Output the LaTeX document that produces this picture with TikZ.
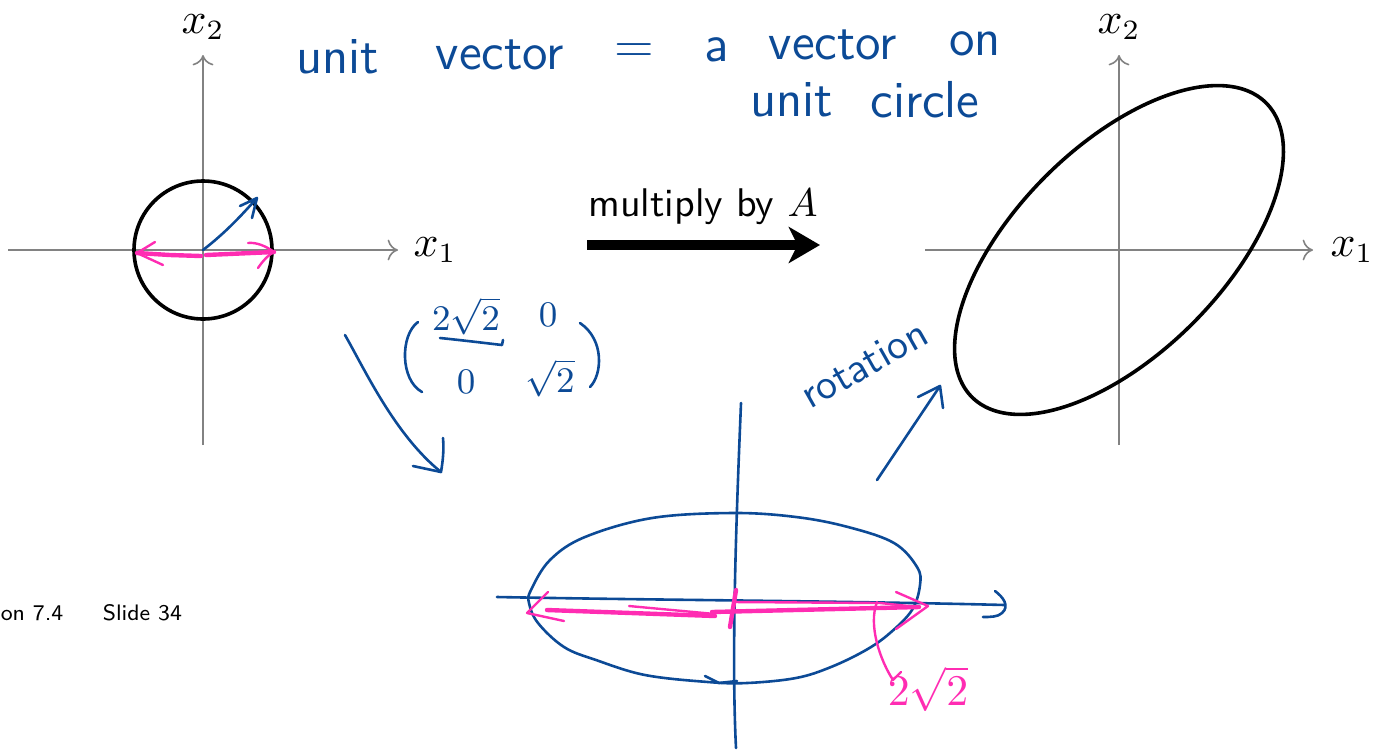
\documentclass[tikz,border=0pt]{standalone}
\usepackage{amsmath}
\usetikzlibrary{arrows.meta}
\definecolor{hblue}{RGB}{12,74,150}
\definecolor{hpink}{RGB}{255,44,178}
\definecolor{axisgray}{RGB}{130,130,130}
\begin{document}
\begin{tikzpicture}[x=0.25pt,y=-0.25pt,
  axis/.style={draw=axisgray, line width=0.4pt, -{To[length=2.6pt,width=5.2pt]}},
  curve/.style={draw=black, line width=0.9pt},
  hand/.style={draw=hblue, line width=0.65pt, line cap=round, line join=round},
  pinkthick/.style={draw=hpink, line width=1.1pt, line cap=round, line join=round},
  pinkthin/.style={draw=hpink, line width=0.6pt, line cap=round, line join=round},
  axlabel/.style={inner sep=0pt, font=\fontsize{10.5}{12}\selectfont},
  handtext/.style={inner sep=0pt, text=hblue, font=\sffamily\fontsize{13}{15}\selectfont},
  mattext/.style={inner sep=0pt, text=hblue, font=\fontsize{9}{10}\selectfont},
  foot/.style={inner sep=0pt, font=\sffamily\fontsize{5.6}{7}\selectfont}
]
\useasboundingbox (0,0) rectangle (1379,751);

% ---------- left plot ----------
\coordinate (LO) at (203,250);
\coordinate (Lxa) at (8,250);   \coordinate (Lxb) at (398,250);
\coordinate (Lya) at (203,445); \coordinate (Lyb) at (203,55);
\draw[axis] (Lxa) -- (Lxb);
\draw[axis] (Lya) -- (Lyb);
\node[axlabel] (Lx1) at (435,250) {$x_1$};
\node[axlabel] (Lx2) at (203,27) {$x_2$};
\draw[curve] (LO) circle[radius=69];

% blue unit vector
\coordinate (uv) at (257,198);
\draw[hand] (LO) .. controls (225,233) and (240,217) .. (uv);
\draw[hand] (240,206) -- (uv) -- (252,218);

% pink arrows on unit circle
\coordinate (pl) at (137,253);
\coordinate (pr) at (274,252);
\draw[pinkthick] (201,256) -- (170,255) -- (pl);
\draw[pinkthin] (155,242) -- (pl) -- (163,265);
\draw[pinkthick] (206,255) -- (pr);
\draw[pinkthin] (248,243) .. controls (256,242) and (266,246) .. (pr);
\draw[pinkthin] (258,268) .. controls (262,262) and (268,255) .. (pr);

% ---------- middle arrow ----------
\coordinate (mA) at (587,245);
\coordinate (mB) at (820,245);
\draw[line width=2.3pt, -{Stealth[length=7.8pt,width=9pt,inset=2.2pt]}] (mA) -- (mB);
\node[inner sep=0pt, font=\sffamily\fontsize{10}{12}\selectfont] (mult) at (703,207) {multiply by $A$};

% ---------- right plot ----------
\coordinate (RO) at (1119,250);
\coordinate (Rxa) at (925,250);  \coordinate (Rxb) at (1313,250);
\coordinate (Rya) at (1119,445); \coordinate (Ryb) at (1119,55);
\draw[axis] (Rxa) -- (Rxb);
\draw[axis] (Rya) -- (Ryb);
\node[axlabel] (Rx1) at (1352,250) {$x_1$};
\node[axlabel] (Rx2) at (1119,27) {$x_2$};
\draw[curve] plot[domain=0:357, samples=120, smooth cycle, variable=\t]
  ({1119 + 0.7071*(208*cos(\t) + 104*sin(\t))}, {250 - 0.7071*(208*cos(\t) - 104*sin(\t))});

% ---------- handwritten note at top ----------
\node[handtext] (w1) at (338,57) {unit};
\node[handtext] (w2) at (500,55) {vector};
\node[handtext] (w3) at (634,53) {=};
\node[handtext] (w4) at (717,50) {a};
\node[handtext] (w5) at (833,45) {vector};
\node[handtext] (w6) at (975,44) {on};
\node[handtext] (w7) at (792,100) {unit};
\node[handtext] (w8) at (925,100) {circle};

% ---------- matrix and stretch arrow ----------
\node[mattext] (m11) at (466,316) {$2\sqrt{2}$};
\node[mattext] (m12) at (548,315) {$0$};
\node[mattext] (m21) at (466,382) {$0$};
\node[mattext] (m22) at (550,378) {$\sqrt{2}$};
\draw[hand] (440,338) .. controls (460,340) and (485,343) .. (502,345) -- (503,340);
\draw[hand] (418,322) .. controls (400,335) and (400,380) .. (422,392);
\draw[hand] (580,323) .. controls (605,340) and (602,375) .. (590,387);

\coordinate (sA) at (345,335);
\coordinate (sB) at (441,472);
\draw[hand] (sA) .. controls (365,370) and (395,435) .. (sB);
\draw[hand] (413,466) -- (sB) .. controls (443,460) and (444,450) .. (443,438);

% ---------- rotation arrow ----------
\node[handtext, font=\sffamily\fontsize{10.5}{12}\selectfont, rotate=29.5] (rot) at (864,364) {rotation};
\coordinate (rA) at (877,480);
\coordinate (rB) at (940,386);
\draw[hand] (rA) -- (rB);
\draw[hand] (918,397) -- (rB) -- (943,408);

% ---------- bottom sketch ----------
\draw[hand] plot[smooth cycle, tension=0.6] coordinates {
  (733,513) (796,517) (848,527) (894,543) (917,567) (920,585) (912,610)
  (890,633) (866,650) (831,667) (796,678) (747,683) (708,682) (645,675)
  (596,660) (564,647) (538,623) (529,603) (531,590) (550,560) (585,537) (652,518)};
\coordinate (bxa) at (497,597);
\coordinate (bxb) at (1005,605);
\draw[hand] (bxa) .. controls (650,600) and (850,601) .. (bxb);
\draw[hand] (995,591) .. controls (1003,597) and (1010,606) .. (1002,613) .. controls (998,617) and (990,617) .. (983,617);
\coordinate (bya) at (741,403);
\coordinate (byb) at (736,748);
\draw[hand] (bya) .. controls (737,500) and (731,650) .. (byb);
\draw[hand] (705,676) -- (719,683) -- (737,681);

% pink double arrow in the bottom ellipse
\coordinate (ql) at (527,613);
\coordinate (qr) at (928,606);
\draw[pinkthin] (548,592) -- (ql) -- (564,621);
\draw[pinkthick] (547,610) -- (715,616);
\draw[pinkthin] (629,606) -- (715,614);
\draw[pinkthick] (712,612) -- (919,607);
\draw[pinkthin] (733,602) -- (880,603) -- (918,607);
\draw[pinkthick] (736,590) -- (730,627);
\draw[pinkthin] (896,592) -- (qr) -- (896,629);
\node[inner sep=0pt, text=hpink, font=\fontsize{11}{13}\selectfont] (len) at (928,689) {$2\sqrt{2}$};
\draw[pinkthin] (877,602) .. controls (868,625) and (880,660) .. (893,680) -- (901,672);

% ---------- footer ----------
\node[foot, anchor=base west] (sec) at (0,620) {on 7.4};
\node[foot, anchor=base west] (sld) at (102,620) {Slide 34};
\end{tikzpicture}
\end{document}
